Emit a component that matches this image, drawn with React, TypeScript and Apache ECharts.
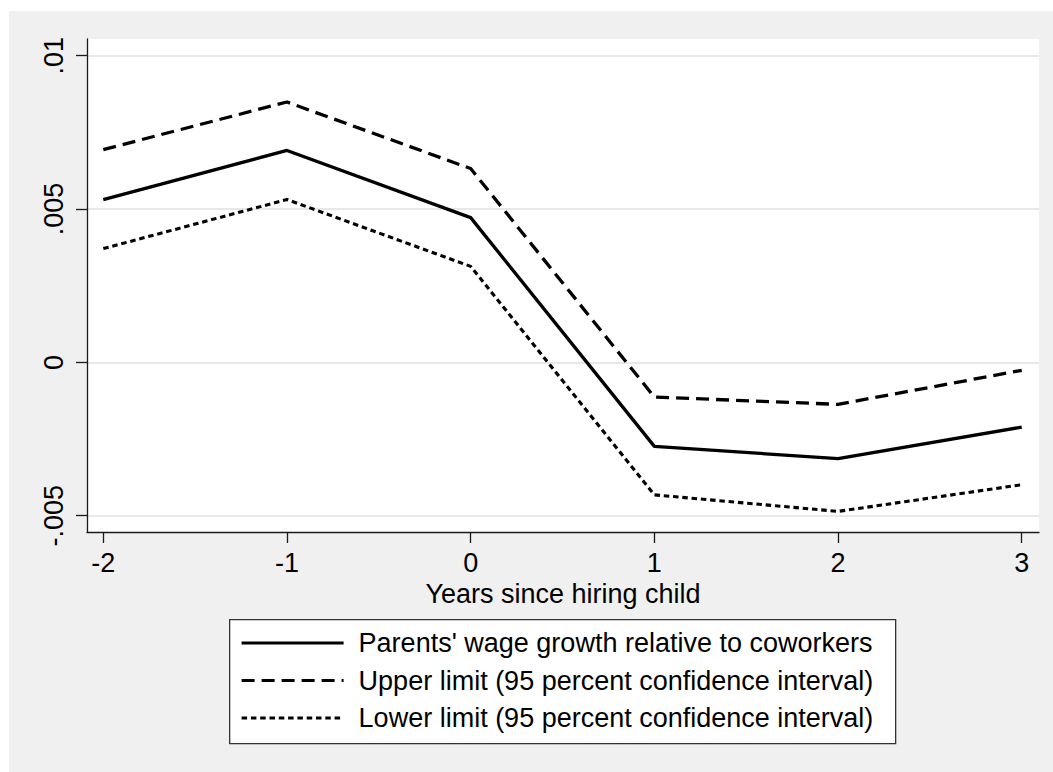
import React, { useEffect, useRef } from "react";
import * as echarts from "echarts";

const years = [-2, -1, 0, 1, 2, 3];
const wageGrowth = [0.00531, 0.00691, 0.00472, -0.00274, -0.00314, -0.00211];
const upperLimit = [0.00694, 0.00849, 0.00632, -0.00113, -0.00137, -0.00026];
const lowerLimit = [0.00371, 0.00531, 0.00313, -0.00432, -0.00486, -0.00399];
const yTicks = [-0.005, 0, 0.005, 0.01];
const yTickLabels: Record<string, string> = {
  "-0.005": "-.005",
  "0": "0",
  "0.005": ".005",
  "0.01": ".01",
};
const seriesNames = [
  "Parents' wage growth relative to coworkers",
  "Upper limit (95 percent confidence interval)",
  "Lower limit (95 percent confidence interval)",
];

const FONT = "'Liberation Sans', Arial, Helvetica, sans-serif";
const FS = 27;

export default function App() {
  const ref = useRef<HTMLDivElement>(null);
  useEffect(() => {
    if (!ref.current) return;
    const chart = echarts.init(ref.current, undefined, { renderer: "svg" });
    const pairs = (vals: number[]) => years.map((x, i) => [x, vals[i]]);
    const styles = [
      { type: "solid" as any, width: 3.3 },
      { type: [13, 7] as any, width: 3.3 },
      { type: [5.5, 3.8] as any, width: 3.1 },
    ];
    const data = [wageGrowth, upperLimit, lowerLimit];
    chart.setOption({
      animation: false,
      backgroundColor: "#f0f0f0",
      textStyle: { fontFamily: FONT },
      grid: {
        left: 78,
        top: 28,
        width: 952,
        height: 493,
        show: true,
        backgroundColor: "#ffffff",
        borderWidth: 0,
      },
      xAxis: {
        type: "value",
        min: -2.0887,
        max: 3.094,
        name: "Years since hiring child",
        nameLocation: "middle",
        nameGap: 44,
        nameTextStyle: { fontSize: FS, color: "#000", fontFamily: FONT },
        axisLine: { show: true, onZero: false, lineStyle: { color: "#1a1a1a", width: 1.3 } },
        axisTick: {
          show: true,
          length: 11,
          customValues: years,
          lineStyle: { color: "#1a1a1a", width: 1.3 },
        },
        axisLabel: {
          customValues: years,
          fontSize: FS,
          color: "#000",
          margin: 17,
          fontFamily: FONT,
          formatter: (v: number) => String(v),
        },
        splitLine: { show: false },
      },
      yAxis: {
        type: "value",
        min: -0.005532,
        max: 0.010545,
        axisLine: { show: true, onZero: false, lineStyle: { color: "#1a1a1a", width: 1.3 } },
        axisTick: {
          show: true,
          length: 11,
          customValues: yTicks,
          lineStyle: { color: "#1a1a1a", width: 1.3 },
        },
        axisLabel: {
          customValues: yTicks,
          rotate: 90,
          fontSize: FS,
          color: "#000",
          margin: 20,
          fontFamily: FONT,
          formatter: (v: number) => {
            const k = String(Math.round(v * 1000) / 1000);
            return yTickLabels[k] ?? k;
          },
        },
        splitLine: { show: true, lineStyle: { color: "#e8e8e8", width: 2 } },
      },
      legend: {
        orient: "vertical",
        left: 231,
        top: 617,
        padding: 0,
        itemWidth: 102,
        itemHeight: 14,
        itemGap: 7.5,
        itemStyle: { opacity: 0 },
        lineStyle: { width: 3.2 },
        textStyle: {
          fontSize: FS,
          lineHeight: 30,
          color: "#000",
          fontFamily: FONT,
          padding: [0, 0, 0, 10],
        },
        data: seriesNames,
      },
      graphic: [
        {
          type: "rect",
          left: 220,
          top: 608,
          shape: { width: 666, height: 124 },
          style: { fill: "#ffffff", stroke: "#333", lineWidth: 1.3 },
          z: -1,
          silent: true,
        },
      ],
      series: seriesNames.map((name, i) => ({
        name,
        type: "line",
        data: pairs(data[i]),
        symbol: "none",
        showSymbol: false,
        lineStyle: { color: "#000", width: styles[i].width, type: styles[i].type, cap: "butt" },
        itemStyle: { color: "#000" },
      })),
    });
    return () => chart.dispose();
  }, []);
  return (
    <div
      ref={ref}
      style={{ position: "absolute", left: 9, top: 11, width: 1044, height: 761 }}
    />
  );
}
